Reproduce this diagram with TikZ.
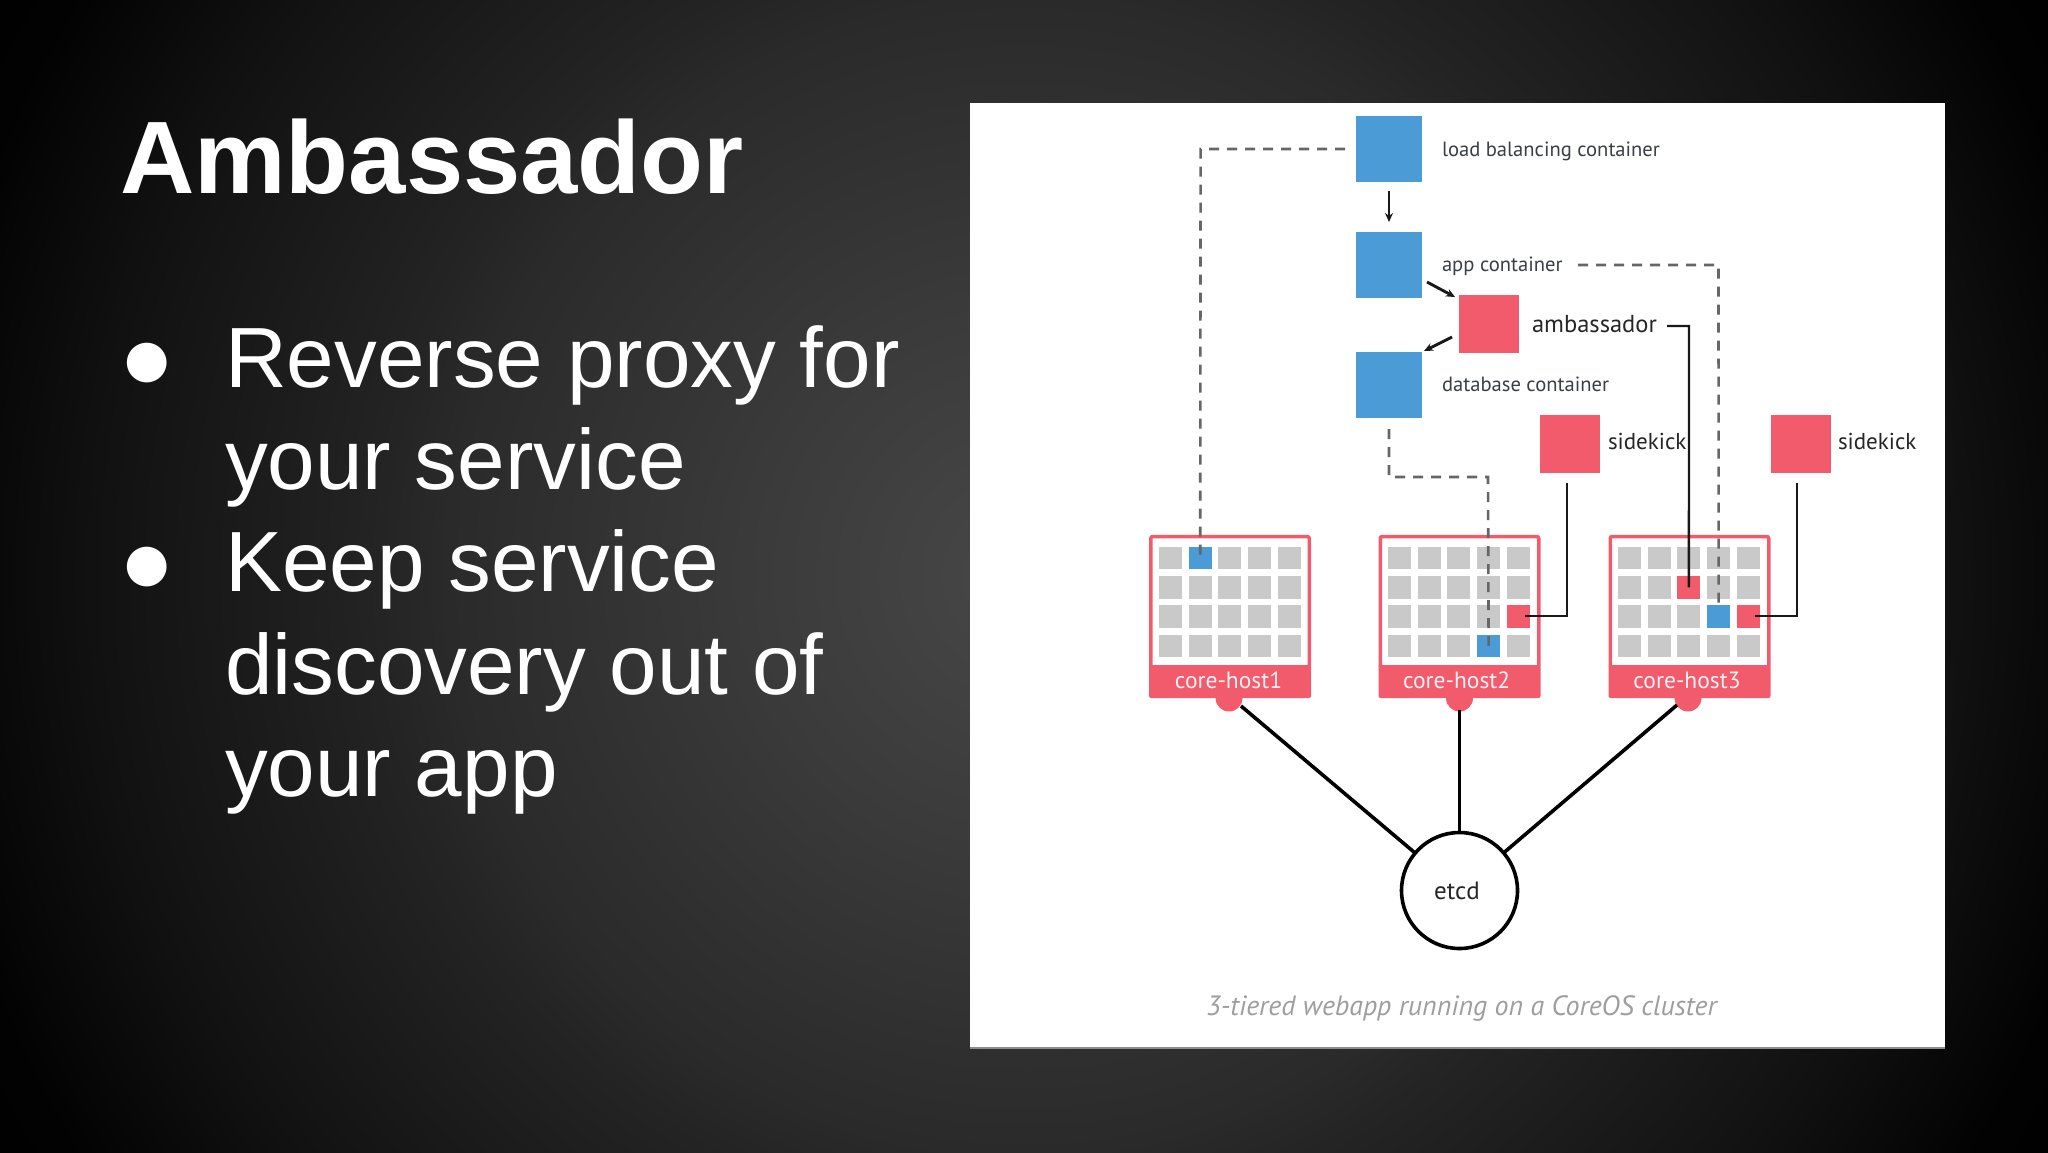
\documentclass[tikz,border=0pt]{standalone}
\usepackage{fontspec}
\setmainfont{Liberation Sans}
\newfontfamily\lab{PT Sans}
\newfontfamily\sym{DejaVu Sans}
\usetikzlibrary{arrows.meta,calc}
\definecolor{pinkc}{HTML}{F25B6C}
\definecolor{bluec}{HTML}{4A9BD6}
\definecolor{cellc}{HTML}{C9C9C9}
\definecolor{dashc}{HTML}{666666}
\definecolor{labc}{HTML}{3A3F45}
\pgfdeclareradialshading{slidebg}{\pgfpoint{0bp}{0bp}}{%
  color(0bp)=(black!72!white);
  color(5.6bp)=(black!77!white);
  color(12bp)=(black!83.5!white);
  color(13.5bp)=(black!86!white);
  color(19.4bp)=(black!93.3!white);
  color(23bp)=(black!99!white);
  color(25bp)=(black);
  color(50bp)=(black)}
\tikzset{
  x=1pt,y=-1pt,
  box/.style={rectangle,inner sep=0pt,outer sep=0pt,minimum width=#1},
  bluebox/.style={box=66pt,minimum height=66pt,fill=bluec},
  redbox/.style={box=60pt,minimum height=58pt,fill=pinkc},
  cellg/.style={box=23pt,minimum height=22.5pt,fill=cellc},
  cellb/.style={cellg,fill=bluec},
  cellr/.style={cellg,fill=pinkc},
  hostbox/.style={rectangle,inner sep=0pt,outer sep=0pt,minimum width=158.5pt,minimum height=131pt,draw=pinkc,line width=3.5pt,rounded corners=2pt,fill=white},
  hostband/.style={rectangle,inner sep=0pt,outer sep=0pt,minimum width=162pt,minimum height=33pt,fill=pinkc,rounded corners=2pt,text=white!92!pinkc,font=\lab\fontsize{23.5}{23.5}\selectfont},
  hostbump/.style={circle,inner sep=0pt,outer sep=0pt,minimum size=27pt,fill=pinkc},
  lbl/.style={inner sep=0pt,outer sep=0pt,anchor=west,text=labc,font=\lab\fontsize{20.6}{24}\selectfont},
  lblk/.style={lbl,text=black!85,font=\lab\fontsize{24.5}{24}\selectfont},
  lblj/.style={lbl,text=black!85,font=\lab\fontsize{23}{24}\selectfont},
  dashl/.style={draw=dashc,line width=2.6pt,dash pattern=on 10pt off 8pt},
  solidl/.style={draw=black!90,line width=2.4pt},
  arrowl/.style={solidl,line width=2.9pt,-{Stealth[length=9pt,width=8pt]}},
  thick line/.style={draw=black,line width=3.6pt},
  etcdc/.style={circle,draw=black,line width=3.6pt,fill=white,minimum size=116pt,inner sep=0pt,outer sep=0pt,text=black!85,font=\lab\fontsize{25}{24}\selectfont},
  slidetext/.style={inner sep=0pt,outer sep=0pt,anchor=base west,text=white,font=\fontsize{85.5}{102}\selectfont},
  bullet/.style={inner sep=0pt,outer sep=0pt,anchor=center,text=white,font=\sym\fontsize{52}{52}\selectfont},
}
\begin{document}
\begin{tikzpicture}
\path[use as bounding box] (0,0) rectangle (2048,1152);
\begin{scope}
\clip (0,0) rectangle (2048,1152);
\shade[shading=slidebg] (1024,576) circle (1200);
\end{scope}
\fill[white] (970,103) rectangle (1945,1048);
\fill[black!45] (970,1047) rectangle (1945,1048.5);

% slide text
\node[slidetext,font=\bfseries\fontsize{103}{102}\selectfont] (title) at (120,193.5) {Ambassador};
\node[bullet] (b1) at (147,363) {●};
\node[bullet] (b2) at (147,567) {●};
\node[slidetext] (l1) at (225,387) {Reverse proxy for};
\node[slidetext] (l2) at (225,489.5) {your service};
\node[slidetext] (l3) at (225,591.5) {Keep service};
\node[slidetext] (l4) at (225,694) {discovery out of};
\node[slidetext] (l5) at (225,796.5) {your app};

% hosts
\foreach \h/\hx/\hb/\hl/\cx in {1/1230/1229/1228.5/1230,2/1459.5/1459.5/1456.6/1459,3/1689.5/1688/1687/1689}{
  \node[hostbump] (bump\h) at (\hb,698) {};
  \node[hostbox] (host\h) at (\hx,602) {};
  \node[hostband,text width=162pt,align=center] (band\h) at (\hx,681.5) {\raisebox{2pt}{\hspace*{\dimexpr\hl pt-\hx pt\relax}\hspace*{\dimexpr\hl pt-\hx pt\relax}core-host\h}};
  \foreach \c in {0,...,4}{\foreach \r in {0,...,3}{
    \node[cellg] (h\h c\c r\r) at ({\cx-59.5+\c*29.7},{558+\r*29.3}) {};
  }}
}
\node[cellb] (ch1) at (h1c1r0) {};
\node[cellb] (ch2) at (h2c3r3) {};
\node[cellr] (sk2) at (h2c4r2) {};
\node[cellr] (am3) at (h3c2r1) {};
\node[cellb] (ch3) at (h3c3r2) {};
\node[cellr] (sk3) at (h3c4r2) {};

% containers
\node[bluebox] (lb) at (1389,149) {};
\node[bluebox] (app) at (1389,265) {};
\node[bluebox] (db) at (1389,385) {};
\node[redbox] (amb) at (1489,324) {};
\node[redbox] (sa) at (1570,443.5) {};
\node[redbox] (sb) at (1801,443.5) {};
\node[lbl] (tlb) at (1442,151) {load balancing container};
\node[lbl] (tapp) at (1442,266.5) {app container};
\node[lblk] (tamb) at (1532,324) {ambassador};
\node[lbl] (tdb) at (1442,384.5) {database container};
\node[lblj] (tsa) at (1608,441) {sidekick};
\node[lblj] (tsb) at (1838,441) {sidekick};

% free ends
\coordinate (lbw) at (1345,149);
\coordinate (c1) at (1200.6,149);
\coordinate (lbs) at (1389,191);
\coordinate (appn) at (1389,222);
\coordinate (a1) at (1427,282);
\coordinate (a2) at (1455,297);
\coordinate (a3) at (1452,337);
\coordinate (a4) at (1424,351);
\coordinate (ambe) at (1667,326);
\coordinate (ambc) at (1689,326);
\coordinate (appe) at (1578,265);
\coordinate (appc) at (1718.5,265);
\coordinate (dbs) at (1389,429);
\coordinate (dbc) at (1389,477);
\coordinate (dbd) at (1488,477);
\coordinate (sas) at (1567,483);
\coordinate (sac) at (1567,616);
\coordinate (sae) at (1525,616);
\coordinate (sbs) at (1797,483);
\coordinate (sbc) at (1797,616);
\coordinate (sbe) at (1755,616);

% connectors
\draw[dashl] (lbw) -- (c1) -- (ch1.center);
\draw[arrowl] (lbs) -- (appn);
\draw[arrowl] (a1) -- (a2);
\draw[arrowl] (a3) -- (a4);
\draw[solidl] (ambe) -- (ambc) -- (am3.center);
\draw[dashl] (appe) -- (appc) -- (ch3.north);
\draw[dashl] (dbs) -- (dbc) -- (dbd) -- (ch2.center);
\draw[solidl] (sas) -- (sac) -- (sae);
\draw[solidl] (sbs) -- (sbc) -- (sbe);

% etcd
\node[etcdc] (etcd) at (1459.5,890.5) {\hspace*{-5pt}etcd};
\coordinate (e1) at (1241,706);
\coordinate (e2) at (1459.5,710);
\coordinate (e3) at (1677,705);
\draw[thick line] (e1) -- (etcd);
\draw[thick line] (e2) -- (etcd);
\draw[thick line] (e3) -- (etcd);

\node[inner sep=0pt,outer sep=0pt,text=black!38,font=\lab\itshape\fontsize{27.9}{30}\selectfont] (cap) at (1461.5,1008.5) {3-tiered webapp running on a CoreOS cluster};
\end{tikzpicture}
\end{document}
